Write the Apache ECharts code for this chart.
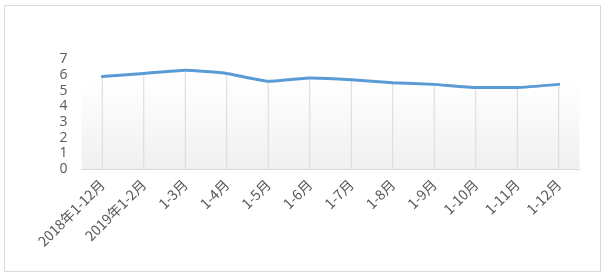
<!DOCTYPE html>
<html>
<head>
<meta charset="utf-8">
<script src="https://cdn.jsdelivr.net/npm/echarts@6/dist/echarts.min.js"></script>
<style>
html,body{margin:0;padding:0;background:#fff;}
#frame{position:absolute;left:4px;top:5px;width:595px;height:265px;border:1px solid #d9d9d9;}
#chart{position:absolute;left:0;top:0;width:610px;height:277px;}
</style>
</head>
<body>
<div id="frame"></div>
<div id="chart"></div>
<script>
const categories = ['2018年1-12月','2019年1-2月','1-3月','1-4月','1-5月','1-6月','1-7月','1-8月','1-9月','1-10月','1-11月','1-12月'];
const values = [5.9, 6.1, 6.3, 6.1, 5.6, 5.8, 5.7, 5.5, 5.4, 5.2, 5.2, 5.4];
const yTicks = [0, 1, 2, 3, 4, 5, 6, 7];

const chart = echarts.init(document.getElementById('chart'), null, {renderer: 'canvas'});
chart.setOption({
  animation: false,
  grid: {
    left: 81.5, right: 30.5, top: 59.3, bottom: 108,
    show: true, borderWidth: 0,
    backgroundColor: {
      type: 'linear', x: 0, y: 0, x2: 0, y2: 1,
      colorStops: [{offset: 0, color: '#ffffff'}, {offset: 0.2, color: '#ffffff'}, {offset: 1, color: '#f0f0f0'}]
    }
  },
  xAxis: {
    type: 'category',
    data: categories,
    boundaryGap: true,
    axisLine: {lineStyle: {color: '#d9d9d9', width: 1}},
    axisTick: {show: false},
    axisLabel: {
      rotate: 45, interval: 0, margin: 13,
      color: '#595959', fontSize: 14,
      fontFamily: '"Noto Sans CJK SC", "Noto Sans", sans-serif'
    },
    splitLine: {show: false}
  },
  yAxis: {
    type: 'value',
    min: yTicks[0], max: yTicks[yTicks.length - 1], interval: 1,
    axisLine: {show: false},
    axisTick: {show: false},
    splitLine: {show: false},
    axisLabel: {color: '#595959', fontSize: 14, margin: 14, fontFamily: '"Open Sans", "Noto Sans", sans-serif'}
  },
  series: [
    {
      type: 'bar',
      data: values,
      barWidth: 1,
      itemStyle: {color: '#d9d9d9'},
      silent: true,
      z: 1
    },
    {
      type: 'line',
      data: values,
      smooth: 0.12,
      symbol: 'none',
      lineStyle: {color: '#5b9bd5', width: 3, cap: 'round', join: 'round'},
      z: 3
    }
  ]
});
</script>
</body>
</html>
